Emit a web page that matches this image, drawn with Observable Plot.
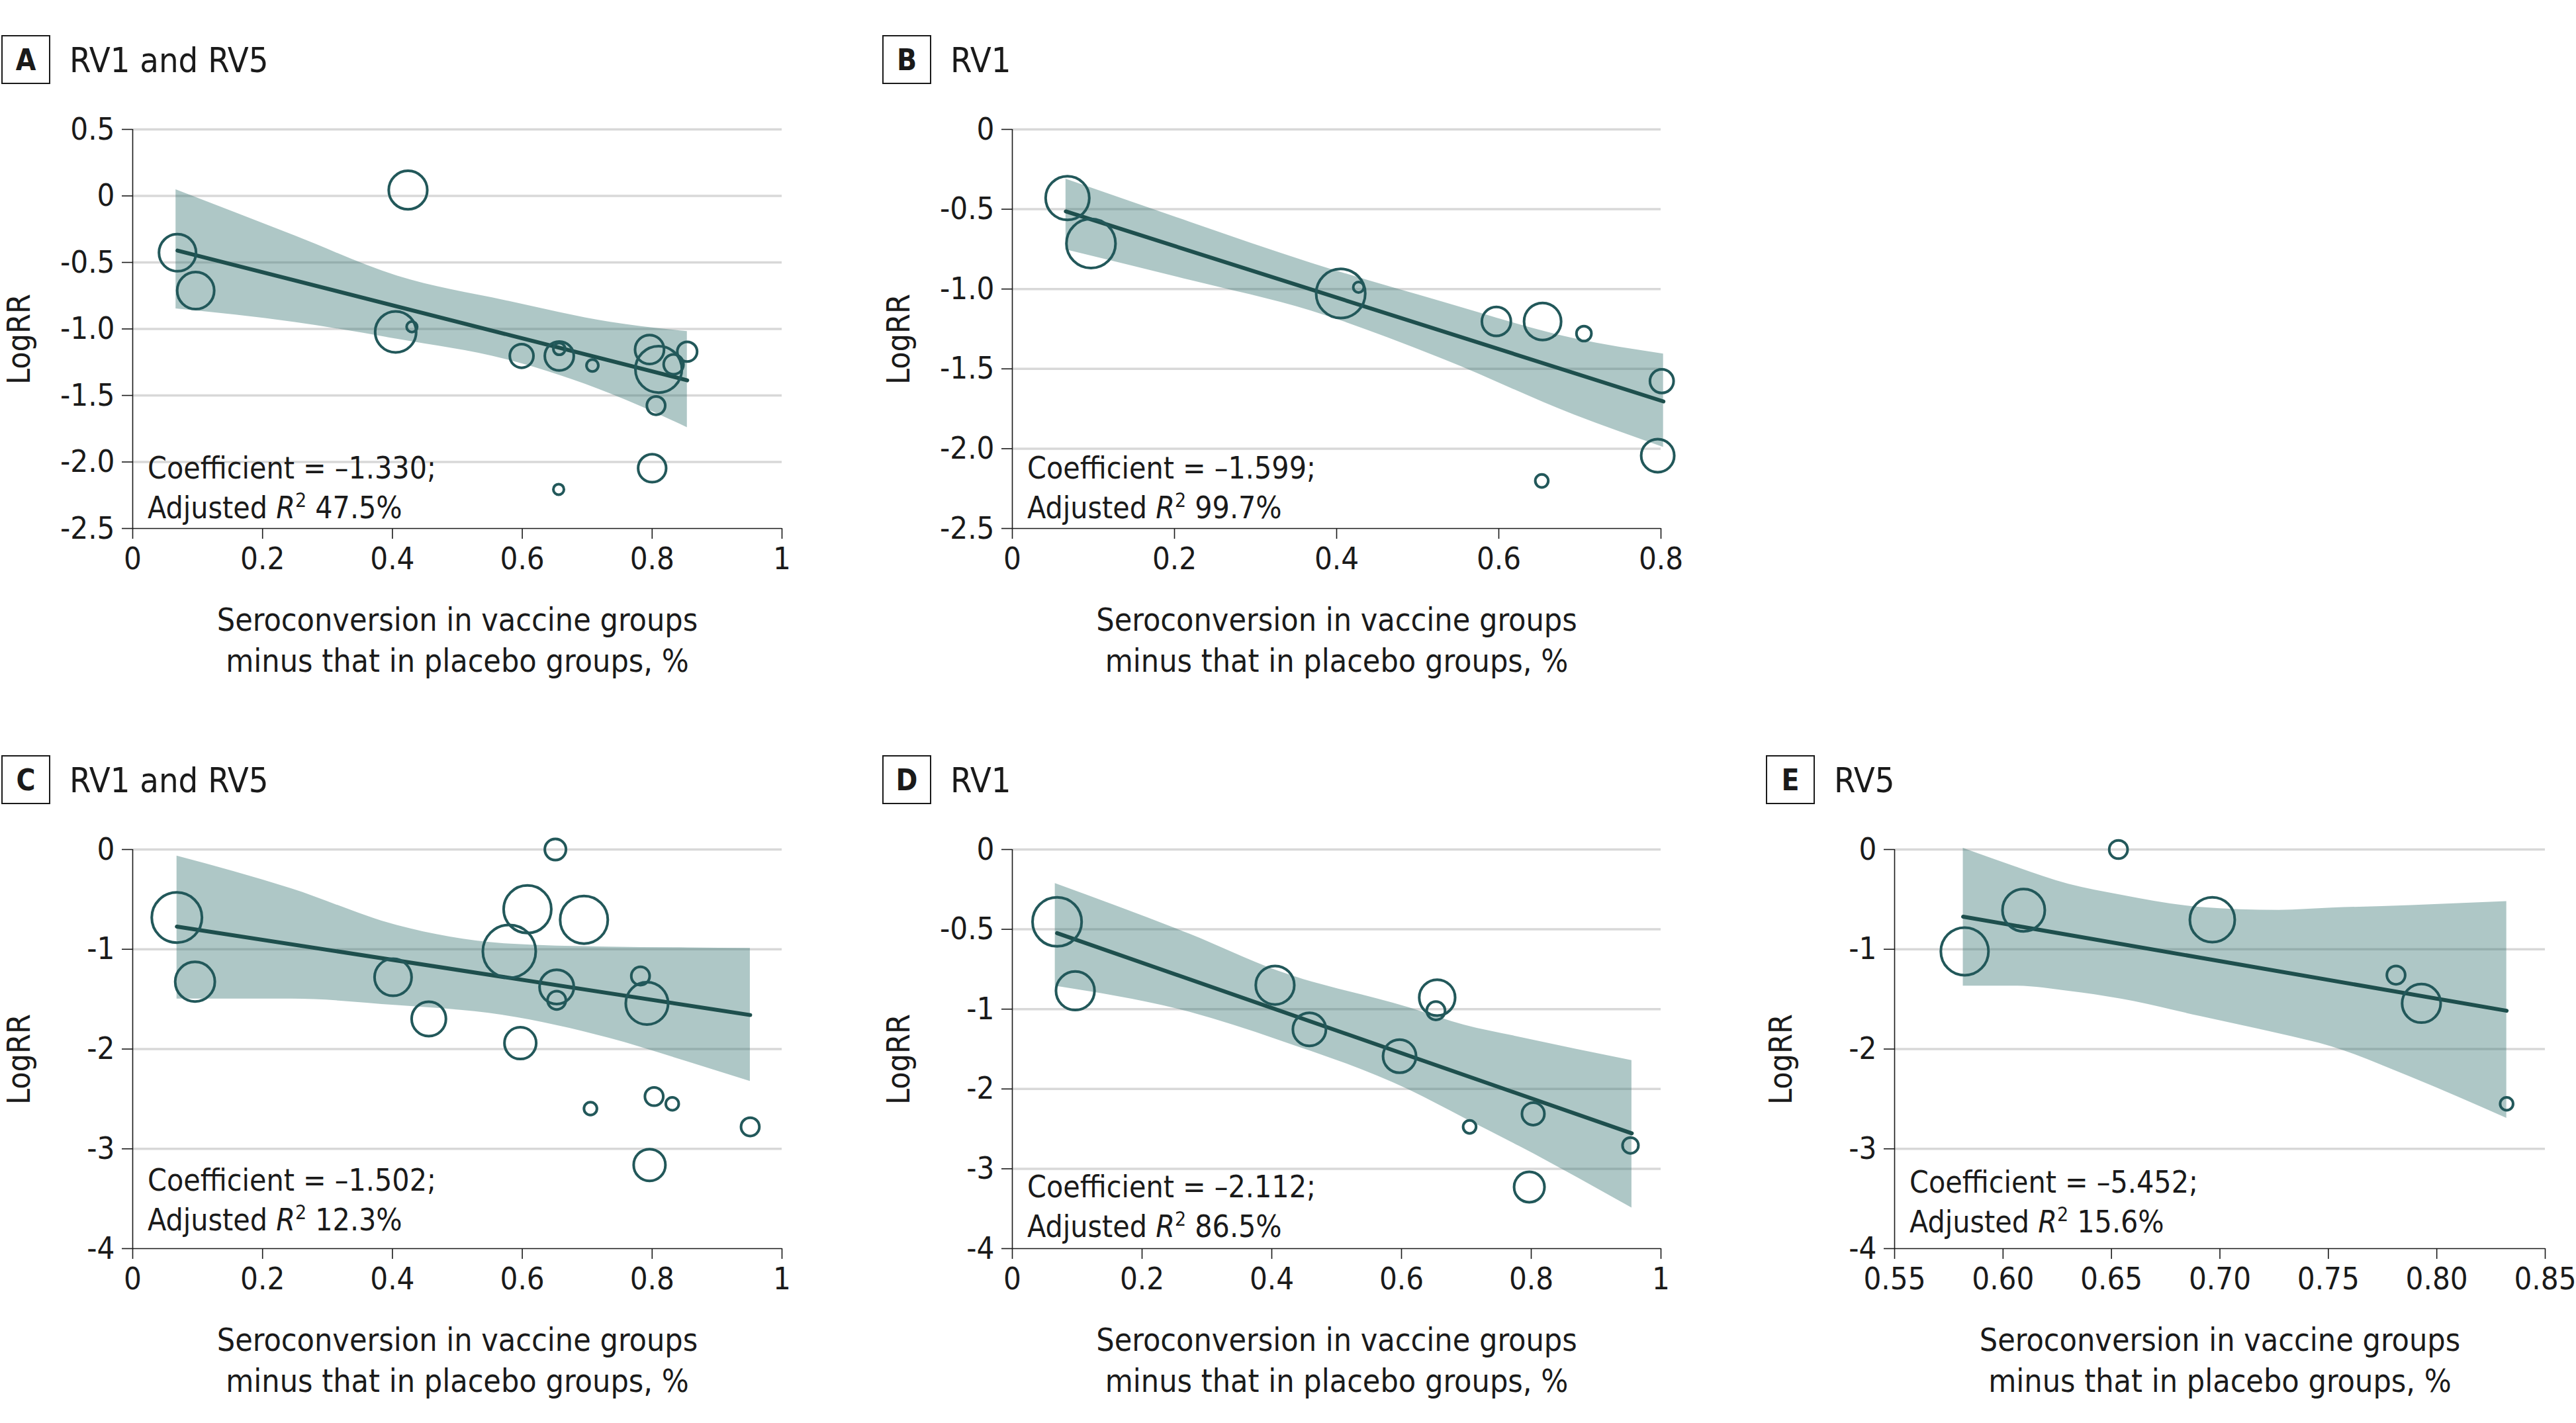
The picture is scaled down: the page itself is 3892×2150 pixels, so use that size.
<!DOCTYPE html>
<html><head><meta charset="utf-8">
<script src="https://cdn.jsdelivr.net/npm/d3@7"></script>
<script src="https://cdn.jsdelivr.net/npm/@observablehq/plot@0.6"></script>
<style>
html,body{margin:0;background:#fff;overflow:hidden}
#wrap{position:relative;width:3892px;height:2150px;overflow:hidden;background:#fff;font-family:"Liberation Sans Narrow","DejaVu Sans Condensed","Roboto Condensed","Open Sans",sans-serif;color:#1a1a1a}
.box{position:absolute;box-sizing:border-box;width:74px;height:74px;border:2px solid #1a1a1a;font-weight:bold;font-size:44px;display:flex;align-items:center;justify-content:center}
.ttl{position:absolute;font-size:52px;line-height:52px;white-space:nowrap}
.panel{position:absolute;line-height:0}
</style></head><body><div id="wrap"></div>
<script>
// ---------- data ----------
const panelLetters = ["A","B","C","D","E"];
const panelTitles = ["RV1 and RV5","RV1","RV1 and RV5","RV1","RV5"];
const coefficients = [-1.330, -1.599, -1.502, -2.112, -5.452];
const adjR2 = [47.5, 99.7, 12.3, 86.5, 15.6];
const xTitle = "Seroconversion in vaccine groups\nminus that in placebo groups, %";
const yTitle = "LogRR";

// Panel A
const aX = [0.069,0.097,0.424,0.405,0.430,0.599,0.657,0.657,0.708,0.796,0.810,0.833,0.854,0.806,0.800,0.656];
const aY = [-0.427,-0.712,0.044,-1.022,-0.984,-1.203,-1.203,-1.150,-1.275,-1.155,-1.304,-1.266,-1.171,-1.576,-2.047,-2.206];
const aW = [49,49,53,60,4,20,30,5,5,30,77,14,14,12,28,4];
const aFitX = [0.069,0.854], aFitY = [-0.411,-1.386];
const aBandX = [0.0665,0.25,0.407,0.579,0.736,0.854];
const aBandHi = [0.047,-0.30,-0.601,-0.791,-0.949,-1.019];
const aBandLo = [-0.848,-0.95,-1.076,-1.234,-1.487,-1.741];
const aXTicks = [0,0.2,0.4,0.6,0.8,1];
const aYTicks = [0.5,0,-0.5,-1,-1.5,-2,-2.5];

// Panel B
const bX = [0.068,0.097,0.405,0.427,0.597,0.654,0.705,0.801,0.796,0.653];
const bY = [-0.430,-0.715,-1.028,-0.989,-1.203,-1.203,-1.279,-1.577,-2.044,-2.202];
const bW = [68,86,86,4,30,49,8,20,39,6];
const bFitX = [0.066,0.803], bFitY = [-0.514,-1.704];
const bBandX = [0.066,0.219,0.368,0.531,0.693,0.803];
const bBandHi = [-0.311,-0.58,-0.836,-1.081,-1.31,-1.406];
const bBandLo = [-0.754,-0.944,-1.136,-1.439,-1.788,-1.991];
const bXTicks = [0,0.2,0.4,0.6,0.8];
const bYTicks = [0,-0.5,-1,-1.5,-2,-2.5];

// Panel C
const cX = [0.068,0.096,0.401,0.456,0.580,0.608,0.651,0.653,0.653,0.695,0.597,0.782,0.792,0.705,0.803,0.831,0.951,0.796];
const cY = [-0.682,-1.325,-1.281,-1.698,-1.021,-0.599,0.0,-1.377,-1.511,-0.704,-1.941,-1.268,-1.542,-2.597,-2.476,-2.549,-2.780,-3.162];
const cW = [90,56,49,42,100,81,16,42,12,81,36,12,64,6,12,6,12,36];
const cFitX = [0.068,0.951], cFitY = [-0.773,-1.659];
const cBandX = [0.068,0.244,0.407,0.570,0.733,0.855,0.951];
const cBandHi = [-0.065,-0.391,-0.760,-0.942,-0.977,-0.985,-0.990];
const cBandLo = [-1.498,-1.498,-1.563,-1.660,-1.889,-2.128,-2.324];
const cXTicks = [0,0.2,0.4,0.6,0.8,1];
const cYTicks = [0,-1,-2,-3,-4];

// Panel D (axis labels are unevenly spaced: 0, -0.5, -1, -2, -3, -4)
const dX = [0.069,0.097,0.405,0.458,0.655,0.653,0.597,0.705,0.803,0.953,0.797];
const dY = [-0.453,-0.885,-0.850,-1.253,-0.928,-1.020,-1.590,-2.475,-2.312,-2.708,-3.229];
const dW = [86,53,53,39,46,12,39,6,18,9,33];
const dFitX = [0.069,0.955], dFitY = [-0.524,-2.556];
const dBandX = [0.066,0.273,0.409,0.612,0.697,0.782,0.955];
const dBandHi = [-0.212,-0.529,-0.760,-0.991,-1.199,-1.35,-1.644];
const dBandLo = [-0.855,-1.036,-1.383,-2.013,-2.366,-2.719,-3.490];
const dXTicks = [0,0.2,0.4,0.6,0.8,1];
const dYTicks = [0,-0.5,-1,-2,-3,-4];

// Panel E
const eX = [0.5823,0.6095,0.6532,0.6965,0.7812,0.7929,0.8322];
const eY = [-1.021,-0.608,0.0,-0.704,-1.259,-1.542,-2.549];
const eW = [81,64,12,72,12,53,6];
const eFitX = [0.5816,0.8322], eFitY = [-0.673,-1.616];
const eBandX = [0.5816,0.6059,0.6302,0.6544,0.6909,0.7273,0.7516,0.788,0.8322];
const eBandHi = [0.013,-0.174,-0.347,-0.456,-0.578,-0.608,-0.586,-0.56,-0.521];
const eBandLo = [-1.368,-1.368,-1.42,-1.498,-1.672,-1.846,-1.976,-2.280,-2.693];
const eXTicks = [0.55,0.60,0.65,0.70,0.75,0.80,0.85];
const eYTicks = [0,-1,-2,-3,-4];

// ---------- formatting / layout ----------
const FONT = '"Liberation Sans Narrow","DejaVu Sans Condensed","Roboto Condensed","Open Sans",sans-serif';
const fmtX1 = d => String(+d.toFixed(2));
const fmtX2 = d => d.toFixed(2);
const fmtY1 = d => d === 0 ? "0" : d.toFixed(1);
const fmtYI = d => String(d);
const dTransform = v => v >= -1 ? 2 * v : v - 1;   // piecewise axis of panel D

const panels = [
  {x:aX,y:aY,w:aW,fx:aFitX,fy:aFitY,bx:aBandX,hi:aBandHi,lo:aBandLo,xTicks:aXTicks,yTicks:aYTicks,xf:fmtX1,yf:fmtY1,
   left:0,top:118,pw:981,mr:70,boxL:2,boxT:53,ttlL:105,ann:75},
  {x:bX,y:bY,w:bW,fx:bFitX,fy:bFitY,bx:bBandX,hi:bBandHi,lo:bBandLo,xTicks:bXTicks,yTicks:bYTicks,xf:fmtX1,yf:fmtY1,
   left:1329,top:118,pw:980,mr:70,boxL:1333,boxT:53,ttlL:1436,ann:75},
  {x:cX,y:cY,w:cW,fx:cFitX,fy:cFitY,bx:cBandX,hi:cBandHi,lo:cBandLo,xTicks:cXTicks,yTicks:cYTicks,xf:fmtX1,yf:fmtYI,
   left:0,top:1206,pw:981,mr:70,boxL:2,boxT:1141,ttlL:105,ann:87},
  {x:dX,y:dY,w:dW,fx:dFitX,fy:dFitY,bx:dBandX,hi:dBandHi,lo:dBandLo,xTicks:dXTicks,yTicks:dYTicks,xf:fmtX1,yf:fmtYI,
   left:1329,top:1206,pw:980,mr:70,boxL:1333,boxT:1141,ttlL:1436,ann:77,yt:dTransform},
  {x:eX,y:eY,w:eW,fx:eFitX,fy:eFitY,bx:eBandX,hi:eBandHi,lo:eBandLo,xTicks:eXTicks,yTicks:eYTicks,xf:fmtX2,yf:fmtYI,
   left:2662,top:1206,pw:983,mr:46,boxL:2668,boxT:1141,ttlL:2771,ann:84}
];

const wrap = document.getElementById("wrap");
const ML = 200, MT = 77, MB = 222, PH = 603;
const INK = "#1a1a1a", TEAL = "#22585a", BAND = "#2b6b68";

panels.forEach((p, k) => {
  const yt = p.yt || (v => v);
  const pts = p.x.map((x, i) => ({x, y: yt(p.y[i]), w: p.w[i]}));
  const band = p.bx.map((x, i) => ({x, lo: yt(p.lo[i]), hi: yt(p.hi[i])}));
  const fit = p.fx.map((x, i) => ({x, y: yt(p.fy[i])}));
  const tickPos = p.yTicks.map(yt);
  const labelOf = new Map(p.yTicks.map(v => [yt(v), p.yf(v)]));
  const yMin = d3.min(tickPos), yMax = d3.max(tickPos);
  const xDom = [p.xTicks[0], p.xTicks[p.xTicks.length - 1]];

  const svg = Plot.plot({
    width: ML + p.pw + p.mr, height: MT + PH + MB,
    marginLeft: ML, marginRight: p.mr, marginTop: MT, marginBottom: MB,
    x: {domain: xDom},
    y: {domain: [yMin, yMax]},
    r: {type: "sqrt", domain: [0, 100], range: [0, 40]},
    style: {fontFamily: FONT, background: "white", color: INK, overflow: "visible", display: "block"},
    marks: [
      Plot.ruleY(tickPos.filter(v => v !== yMin), {stroke: "#d8d8d8", strokeWidth: 3.5}),
      Plot.areaY(band, {x: "x", y1: "lo", y2: "hi", fill: BAND, fillOpacity: 0.38, curve: "monotone-x"}),
      Plot.line(fit, {x: "x", y: "y", stroke: "#1e4f4d", strokeWidth: 6}),
      Plot.dot(pts, {x: "x", y: "y", r: "w", stroke: TEAL, strokeWidth: 4, fill: "none"}),
      Plot.ruleX([xDom[0]], {stroke: INK, strokeWidth: 1.6}),
      Plot.ruleY([yMin], {stroke: INK, strokeWidth: 1.6}),
      Plot.axisX({ticks: p.xTicks, tickFormat: p.xf, tickSize: 16, tickPadding: 12, fontSize: 47, label: null, stroke: INK, strokeWidth: 1.6}),
      Plot.axisY({ticks: tickPos, tickFormat: d => labelOf.get(d), tickSize: 16, tickPadding: 11, fontSize: 47, label: null, stroke: INK, strokeWidth: 1.6}),
      Plot.text([xTitle], {frameAnchor: "bottom", dy: 166, lineAnchor: "middle", fontSize: 48, lineHeight: 1.29, fill: INK})
    ]
  });

  const s = d3.select(svg);
  // y-axis title (rotated)
  s.append("text")
    .attr("transform", `translate(${ML - 172},${MT + PH / 2 + 16}) rotate(-90)`)
    .attr("text-anchor", "middle").attr("dominant-baseline", "central")
    .attr("font-size", 48).attr("fill", INK).attr("font-family", FONT)
    .text(yTitle);

  // regression annotation with superscript
  const ax = ML + 23, base = MT + PH - p.ann;
  s.append("text").attr("x", ax).attr("y", base).attr("font-size", 46).attr("fill", INK)
    .attr("text-anchor", "start").attr("font-family", FONT)
    .text(`Coefficient = \u2013${Math.abs(coefficients[k]).toFixed(3)};`);
  const t2 = s.append("text").attr("x", ax).attr("y", base + 60).attr("font-size", 46).attr("fill", INK)
    .attr("text-anchor", "start").attr("font-family", FONT);
  t2.append("tspan").text("Adjusted ");
  t2.append("tspan").attr("font-style", "italic").text("R");
  t2.append("tspan").attr("font-size", 30).attr("dy", -17).text("2");
  t2.append("tspan").attr("dy", 17).text(` ${adjR2[k].toFixed(1)}%`);

  const div = document.createElement("div");
  div.className = "panel";
  div.style.left = p.left + "px";
  div.style.top = p.top + "px";
  div.appendChild(svg);
  wrap.appendChild(div);

  const box = document.createElement("div");
  box.className = "box";
  box.style.left = p.boxL + "px";
  box.style.top = p.boxT + "px";
  box.textContent = panelLetters[k];
  wrap.appendChild(box);

  const ttl = document.createElement("div");
  ttl.className = "ttl";
  ttl.style.left = p.ttlL + "px";
  ttl.style.top = (p.boxT + 12) + "px";
  ttl.textContent = panelTitles[k];
  wrap.appendChild(ttl);
});
</script></body></html>
